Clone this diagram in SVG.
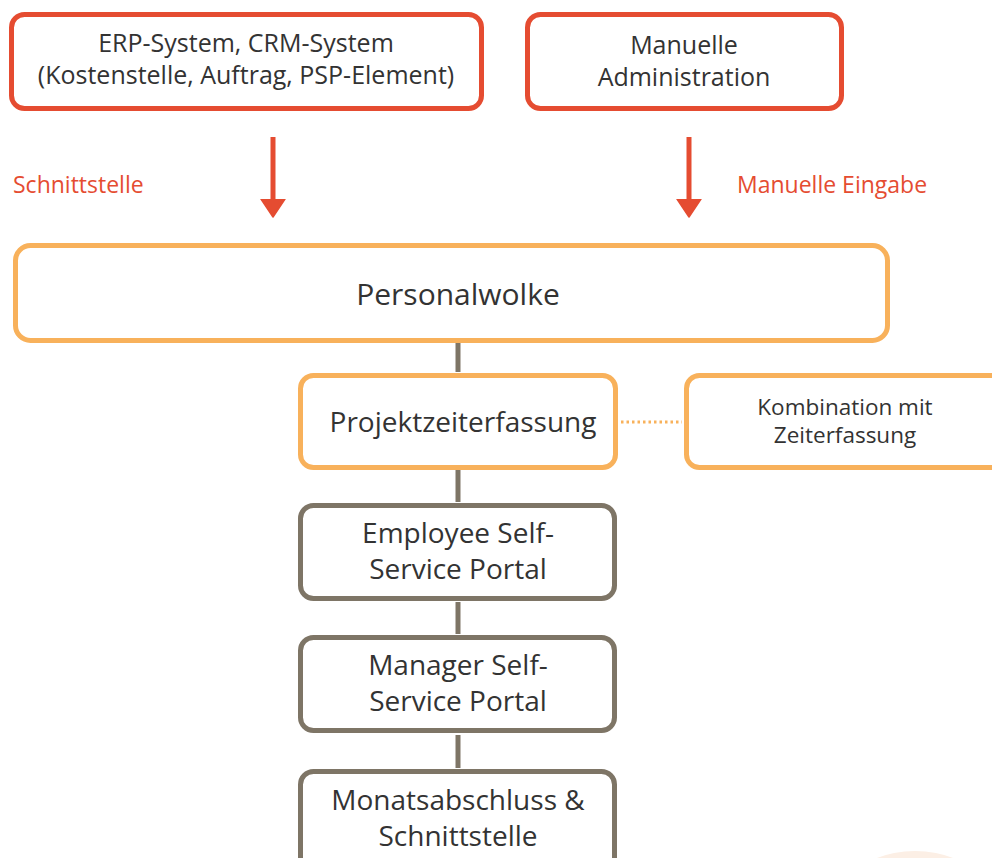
<svg xmlns="http://www.w3.org/2000/svg" width="992" height="858" viewBox="0 0 992 858">
<style>
text{font-family:"Open Sans","Noto Sans","DejaVu Sans",sans-serif;fill:#333333;text-anchor:middle}
.red{fill:#fff;stroke:#e54c31;stroke-width:5}
.org{fill:#fff;stroke:#f8b15b;stroke-width:5}
.gry{fill:#fff;stroke:#7e7566;stroke-width:5}
.lbl{fill:#e54c31;font-size:23px;text-anchor:start}
.conn{stroke:#7e7566;stroke-width:5;fill:none}
.arrow{stroke:#e54c31;stroke-width:5;fill:none}
</style>
<defs>
<marker id="ah" markerUnits="userSpaceOnUse" markerWidth="20" markerHeight="26" viewBox="0 0 20 26" refX="1" refY="13" orient="auto">
<path d="M0,1 L18,13 L0,25 z" fill="#e54c31" stroke="#e54c31" stroke-width="1.5" stroke-linejoin="round"/>
</marker>
</defs>
<rect width="992" height="858" fill="#ffffff"/>
<circle cx="915" cy="958" r="107" fill="#fcefe5"/>
<g id="connectors">
<line class="arrow" x1="273" y1="137" x2="273" y2="200" marker-end="url(#ah)"/>
<line class="arrow" x1="689" y1="137" x2="689" y2="200" marker-end="url(#ah)"/>
<line class="conn" x1="458" y1="342" x2="458" y2="372"/>
<line class="conn" x1="458" y1="470" x2="458" y2="502"/>
<line class="conn" x1="458" y1="602" x2="458" y2="634"/>
<line class="conn" x1="458" y1="735" x2="458" y2="768"/>
<line x1="621" y1="422" x2="682" y2="422" stroke="#f8b15b" stroke-width="3" stroke-dasharray="2.5 3"/>
<text class="lbl" x="13" y="193">Schnittstelle</text>
<text class="lbl" x="737" y="193">Manuelle Eingabe</text>
</g>
<g id="erp">
<rect class="red" x="11.5" y="14.5" width="470" height="94" rx="13"/>
<text x="246" y="52" font-size="25">ERP-System, CRM-System</text>
<text x="246" y="84" font-size="25">(Kostenstelle, Auftrag, PSP-Element)</text>
</g>
<g id="manuell">
<rect class="red" x="527.5" y="14.5" width="314" height="94" rx="13"/>
<text x="684" y="54" font-size="25">Manuelle</text>
<text x="684" y="86" font-size="25">Administration</text>
</g>
<g id="personalwolke">
<rect class="org" x="15.5" y="245.5" width="872" height="95" rx="15"/>
<text x="458" y="305" font-size="30">Personalwolke</text>
</g>
<g id="projektzeit">
<rect class="org" x="300.5" y="375.5" width="315" height="92" rx="13"/>
<text x="463" y="432" font-size="28">Projektzeiterfassung</text>
</g>
<g id="kombination">
<rect class="org" x="686.5" y="375.5" width="330" height="92" rx="13"/>
<text x="845" y="415" font-size="22.5">Kombination mit</text>
<text x="845" y="443" font-size="22.5">Zeiterfassung</text>
</g>
<g id="ess">
<rect class="gry" x="300.5" y="505.5" width="314" height="93" rx="13"/>
<text x="458" y="543" font-size="28">Employee Self-</text>
<text x="458" y="579" font-size="28">Service Portal</text>
</g>
<g id="mss">
<rect class="gry" x="300.5" y="637.5" width="314" height="93" rx="13"/>
<text x="458" y="675" font-size="28">Manager Self-</text>
<text x="458" y="711" font-size="28">Service Portal</text>
</g>
<g id="monat">
<rect class="gry" x="300.5" y="771.5" width="314" height="120" rx="13"/>
<text x="458" y="810" font-size="28">Monatsabschluss &amp;</text>
<text x="458" y="846" font-size="28">Schnittstelle</text>
</g>
</svg>
